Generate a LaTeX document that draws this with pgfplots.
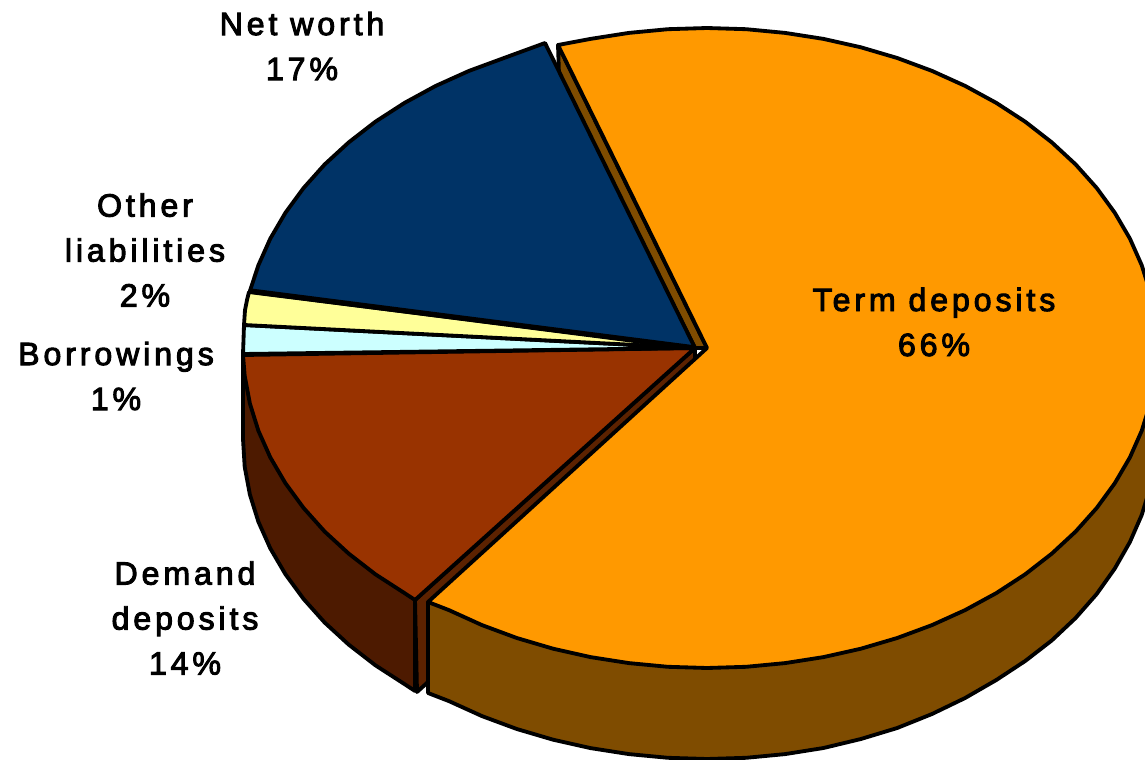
\documentclass[border=0pt]{standalone}
\usepackage{pgfplots}
\pgfplotsset{compat=1.18}
\usepackage{fontspec}
\setmainfont[LetterSpace=12,FakeBold=3]{Liberation Sans}
\definecolor{termtop}{HTML}{FF9900}
\definecolor{termside}{HTML}{7F4C00}
\definecolor{demandtop}{HTML}{993300}
\definecolor{demandside}{HTML}{4D1A00}
\definecolor{demandcut}{HTML}{5C2200}
\definecolor{borrow}{HTML}{CCFFFF}
\definecolor{otherliab}{HTML}{FFFF99}
\definecolor{networth}{HTML}{003366}
\begin{document}
\begin{tikzpicture}
\begin{axis}[
  hide axis, scale only axis, width=687pt, height=456pt,
  xmin=0, xmax=1145, ymin=0, ymax=760, y dir=reverse, clip=true,
  every axis plot/.append style={draw=black, line width=2.3pt, line join=round},
]
% page extent
\addplot[draw=none, forget plot] coordinates {(0,0) (1145,760)};

% demand deposits: outer wall and cut face
\addplot[fill=demandside] coordinates {
  (243,355) (243,439) (244.7,466.9) (249.9,494.6) (258.4,521.8) (270.3,548.4)
  (285.4,574.2) (303.6,599) (324.7,622.6) (348.8,644.7) (375.4,665.3)
  (404.5,684.1) (415,691) (415,600)} -- cycle;
\addplot[fill=demandcut] coordinates {(415,600) (695,348) (695,439) (417,692)} -- cycle;

% term deposits: cut face and outer wall
\addplot[fill=termside] coordinates {(558,45) (559,75) (695,348) (707,348)} -- cycle;
\addplot[fill=termside] coordinates {
  (1157,348) (1157,430) (1155.3,460) (1150,488) (1141.7,515) (1129.9,542)
  (1114.8,568.5) (1096.7,594) (1075.6,618) (1051.7,640.5) (1025.2,661)
  (996.3,680) (965.1,698) (932,714) (897.2,728) (860.9,739) (823.5,748)
  (785.1,754.1) (746.2,757.8) (707,759) (667.8,757.8) (628.9,754.1) (590.5,748.1)
  (553.1,739.7) (516.8,729) (482,716.1) (448.9,701.1) (428,693) (428,602)} -- cycle;

% term deposits: top face
\addplot[fill=termtop] coordinates {
  (707,348) (558,45) (590.5,38.9) (628.9,32.9) (667.8,29.2) (707,28) (746.2,29.2)
  (785.1,32.9) (823.5,38.9) (860.9,47.3) (897.2,58) (932,70.9) (965.1,85.9)
  (996.3,102.9) (1025.2,121.7) (1051.7,142.3) (1075.6,164.4) (1096.7,188)
  (1114.8,212.8) (1129.9,238.6) (1141.7,265.2) (1150.2,292.4) (1155.3,320.1)
  (1157,348) (1155.3,375.9) (1150.2,403.6) (1141.7,430.8) (1129.9,457.4)
  (1114.8,483.2) (1096.7,508) (1075.6,531.6) (1051.7,553.7) (1025.2,574.3)
  (996.3,593.1) (965.1,610.1) (932,625.1) (897.2,638) (860.9,648.7) (823.5,657.1)
  (785.1,663.1) (746.2,666.8) (707,668) (667.8,666.8) (628.9,663.1) (590.5,657.1)
  (553.1,648.7) (516.8,638) (482,625.1) (448.9,610.1) (428,602)} -- cycle;

% demand deposits: top face
\addplot[fill=demandtop] coordinates {
  (695,348) (415,600) (404.5,593.1) (375.4,574.3) (348.8,553.7) (324.7,531.6)
  (303.6,508) (285.4,483.2) (270.3,457.4) (258.4,430.8) (249.9,403.6)
  (244.7,375.9) (243,355)} -- cycle;

% borrowings
\addplot[fill=borrow] coordinates {(695,348) (243,354) (243.5,340) (244,325)} -- cycle;

% other liabilities
\addplot[fill=otherliab] coordinates {(695,348) (244,325) (245,310) (247,300) (249,292)} -- cycle;

% net worth, with its heavier lower edge
\addplot[fill=networth] coordinates {
  (695,348) (249.9,291) (258.4,265.2) (270.3,238.6) (285.4,212.8) (303.6,188)
  (324.7,164.4) (348.8,142.3) (375.4,121.7) (404.5,102.9) (435.7,85.9) (469,70.9)
  (504,58) (545,43)} -- cycle;
\addplot[draw=black, line width=3.2pt] coordinates {(695,348) (249.9,291)};

% slice labels
\tikzset{lab/.style={align=center, inner sep=0pt, text=black,
  font=\fontsize{19.3}{27}\selectfont}}
\node[lab] at (axis cs:302,46) {Net worth\\17\%};
\node[lab] at (axis cs:145,250) {Other\\liabilities\\2\%};
\node[lab] at (axis cs:116,376) {Borrowings\\1\%};
\node[lab] at (axis cs:185,618) {Demand\\deposits\\14\%};
\node[lab] at (axis cs:934,322) {Term deposits\\66\%};
\end{axis}
\end{tikzpicture}
\end{document}
